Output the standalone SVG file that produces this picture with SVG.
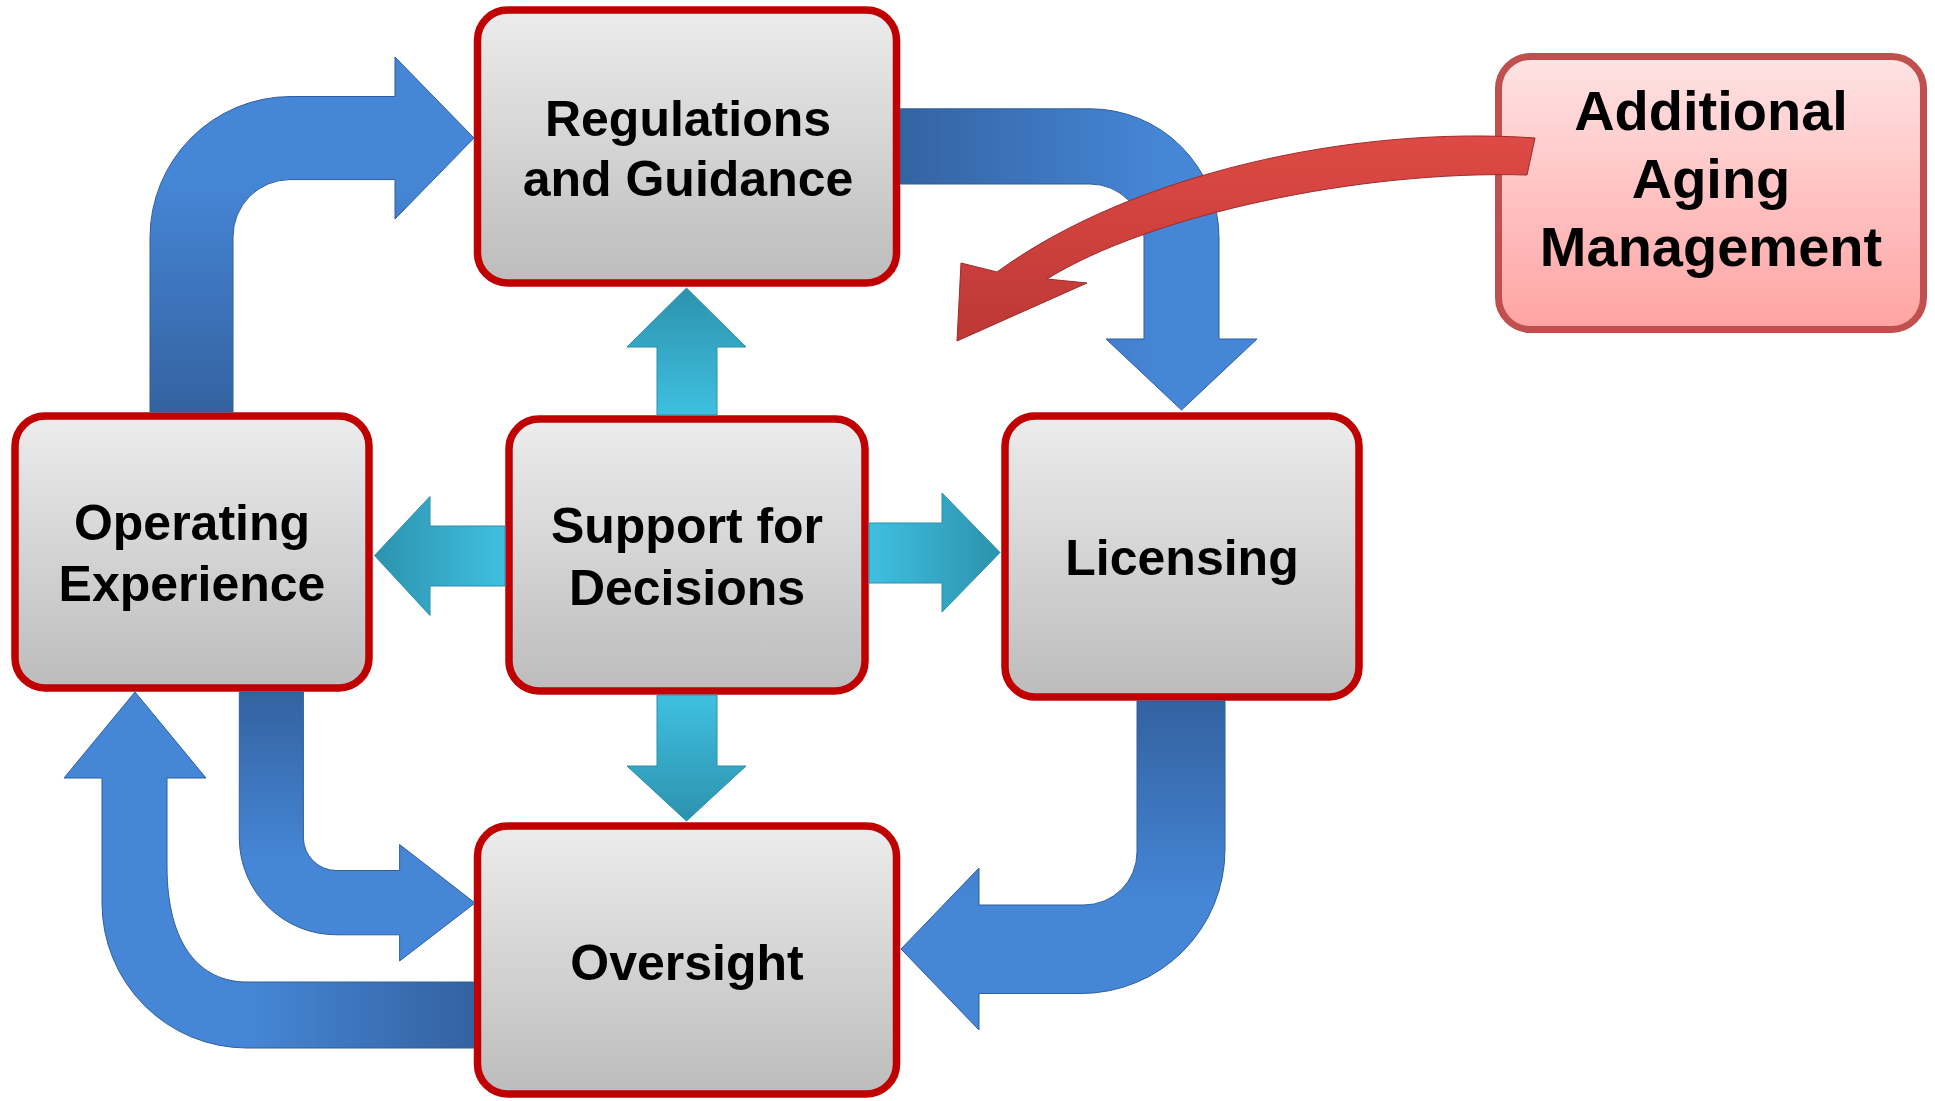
<svg xmlns="http://www.w3.org/2000/svg" width="1935" height="1101" viewBox="0 0 1935 1101">
<style>
.box{fill:url(#gBox);stroke:#c00000;stroke-width:7.5}
.pbox{fill:url(#gPink);stroke:#c0504d;stroke-width:7}
.t{font-family:"Liberation Sans",Arial,Helvetica,sans-serif;font-weight:bold;font-size:50px;fill:#000;text-anchor:middle}
.tb{font-size:56px}
.blue{stroke:#2f5f9e;stroke-width:1;stroke-linejoin:round}
.cyan{stroke:#2a8fae;stroke-width:1;stroke-linejoin:round}
.red{fill:url(#gRed);stroke:#9e2b2b;stroke-width:1;stroke-linejoin:round}
</style>
<defs>
<linearGradient id="gBox" x1="0" y1="0" x2="0" y2="1">
<stop offset="0" stop-color="#ececec"/><stop offset="1" stop-color="#bcbcbc"/>
</linearGradient>
<linearGradient id="gPink" x1="0" y1="0" x2="0" y2="1">
<stop offset="0" stop-color="#ffe3e3"/><stop offset="1" stop-color="#ffa3a3"/>
</linearGradient>
<linearGradient id="gRed" x1="0" y1="0" x2="0" y2="1">
<stop offset="0" stop-color="#de4a45"/><stop offset="1" stop-color="#bd3734"/>
</linearGradient>
<linearGradient id="gA1" gradientUnits="userSpaceOnUse" x1="0" y1="412" x2="0" y2="180">
<stop offset="0" stop-color="#3462a0"/><stop offset="1" stop-color="#4586d6"/>
</linearGradient>
<linearGradient id="gA2" gradientUnits="userSpaceOnUse" x1="900" y1="0" x2="1160" y2="0">
<stop offset="0" stop-color="#3463a2"/><stop offset="1" stop-color="#4586d6"/>
</linearGradient>
<linearGradient id="gA3" gradientUnits="userSpaceOnUse" x1="0" y1="701" x2="0" y2="900">
<stop offset="0" stop-color="#3362a0"/><stop offset="1" stop-color="#4586d6"/>
</linearGradient>
<linearGradient id="gA4" gradientUnits="userSpaceOnUse" x1="474" y1="0" x2="250" y2="0">
<stop offset="0" stop-color="#3362a0"/><stop offset="1" stop-color="#4586d6"/>
</linearGradient>
<linearGradient id="gA5" gradientUnits="userSpaceOnUse" x1="0" y1="692" x2="0" y2="860">
<stop offset="0" stop-color="#3362a0"/><stop offset="1" stop-color="#4586d6"/>
</linearGradient>
<linearGradient id="gCu" gradientUnits="userSpaceOnUse" x1="0" y1="415" x2="0" y2="288">
<stop offset="0" stop-color="#3fc0e0"/><stop offset="1" stop-color="#2c92ad"/>
</linearGradient>
<linearGradient id="gCd" gradientUnits="userSpaceOnUse" x1="0" y1="695" x2="0" y2="821">
<stop offset="0" stop-color="#3fc0e0"/><stop offset="1" stop-color="#2c92ad"/>
</linearGradient>
<linearGradient id="gCl" gradientUnits="userSpaceOnUse" x1="505" y1="0" x2="374" y2="0">
<stop offset="0" stop-color="#3fc0e0"/><stop offset="1" stop-color="#2c92ad"/>
</linearGradient>
<linearGradient id="gCr" gradientUnits="userSpaceOnUse" x1="869" y1="0" x2="1000" y2="0">
<stop offset="0" stop-color="#3fc0e0"/><stop offset="1" stop-color="#2c92ad"/>
</linearGradient>
</defs>
<rect width="1935" height="1101" fill="#fff"/>

<g id="node-regulations">
<rect class="box" x="477.5" y="10" width="419" height="273" rx="30"/>
<text class="t" x="688" y="136">Regulations</text>
<text class="t" x="688" y="196">and Guidance</text>
</g>
<g id="node-operating-experience">
<rect class="box" x="15" y="416" width="354" height="272" rx="30"/>
<text class="t" x="192" y="540">Operating</text>
<text class="t" x="192" y="601">Experience</text>
</g>
<g id="node-support">
<rect class="box" x="509" y="419" width="356" height="272" rx="30"/>
<text class="t" x="687" y="543">Support for</text>
<text class="t" x="687" y="605">Decisions</text>
</g>
<g id="node-licensing">
<rect class="box" x="1005" y="416" width="354" height="281" rx="30"/>
<text class="t" x="1182" y="575">Licensing</text>
</g>
<g id="node-oversight">
<rect class="box" x="477.5" y="826" width="419" height="268" rx="30"/>
<text class="t" x="687" y="980">Oversight</text>
</g>
<g id="node-aging">
<rect class="pbox" x="1498.5" y="56.5" width="425" height="273" rx="32"/>
<text class="t tb" x="1711" y="130">Additional</text>
<text class="t tb" x="1711" y="198">Aging</text>
<text class="t tb" x="1711" y="266">Management</text>
</g>

<g id="connectors">
<path class="blue" fill="url(#gA1)" d="M150,412 L150,238 A141,141 0 0 1 291,96.5 L395,96.5 L395,57 L474,138 L395,219 L395,179.6 L290,179.6 A57,57 0 0 0 233,237 L233,412 Z"/>
<path class="blue" fill="url(#gA2)" d="M900.5,108.8 L1090,108.8 A129,129 0 0 1 1219,238 L1219,339 L1257,339 L1181.5,410 L1106,339 L1144,339 L1144,238 A54,54 0 0 0 1090,184 L900.5,184 Z"/>
<path class="blue" fill="url(#gA3)" d="M1225,701 L1225,849 A144,144 0 0 1 1081,993.5 L979,993.5 L979,1030 L901,949 L979,868 L979,905 L1084,905 A53,53 0 0 0 1137,852 L1137,701 Z"/>
<path class="blue" fill="url(#gA4)" d="M473.6,1048 L247,1048 A145,145 0 0 1 102,903 L102,778 L64,778 L135,692 L206,778 L167,778 L167,866 C167,945 200,982 247,982 L473.6,982 Z"/>
<path class="blue" fill="url(#gA5)" d="M239.3,692 L239.3,838 A97,97 0 0 0 337,934.8 L399.6,934.8 L399.6,961 L475,903 L399.6,844.5 L399.6,870.5 L336,870.5 A33,33 0 0 1 303.4,838 L303.4,692 Z"/>
<path class="cyan" fill="url(#gCu)" d="M657,415 L657,347 L627,347 L686.5,288 L746,347 L717,347 L717,415 Z"/>
<path class="cyan" fill="url(#gCd)" d="M657,695 L657,766 L627,766 L686.5,821 L746,766 L717,766 L717,695 Z"/>
<path class="cyan" fill="url(#gCl)" d="M505,526 L430,526 L430,496.5 L374.5,555.5 L430,615.5 L430,586 L505,586 Z"/>
<path class="cyan" fill="url(#gCr)" d="M869,523 L942,523 L942,493 L1000,552.5 L942,612 L942,583 L869,583 Z"/>
<path class="red" d="M1535,138 C1350,125 1130,175 997,272 L961,263 L957,341 L1087,283 L1047,279 C1150,215 1360,170 1527,175 Z"/>
</g>
</svg>
